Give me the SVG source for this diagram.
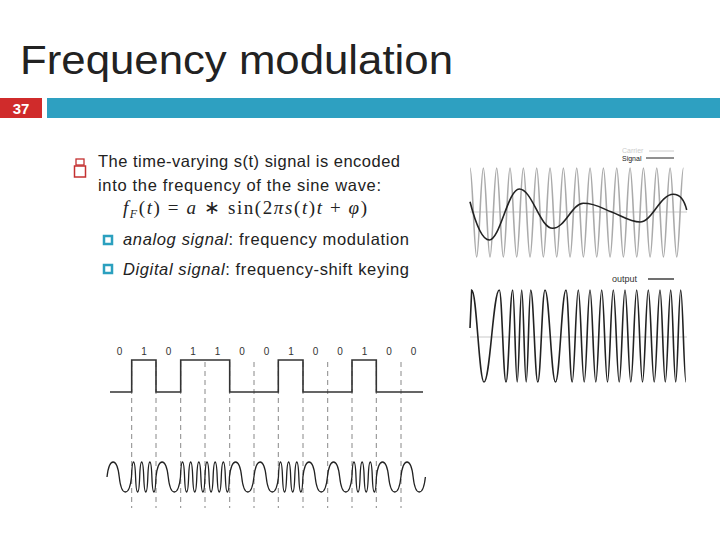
<svg xmlns="http://www.w3.org/2000/svg" width="720" height="540" viewBox="0 0 720 540">
<style>
.t{font-family:"Liberation Sans",Arial,sans-serif;fill:#222}
.b{font-size:16.5px}
.bit{font-family:"Liberation Sans",Arial,sans-serif;font-size:10px;fill:#333;text-anchor:middle}
.dash{stroke:#888;stroke-width:1;stroke-dasharray:5,4;fill:none}
.w{fill:none;stroke:#222;stroke-width:1.6}
.sq{fill:#fff;stroke:#2ba0bf;stroke-width:2.5}
</style>
<rect width="720" height="540" fill="#fff"/>
<g id="header">
<text class="t" x="20" y="74" font-size="41" fill="#262626" textLength="433" lengthAdjust="spacingAndGlyphs">Frequency modulation</text>
<rect x="0" y="98" width="42" height="20" fill="#d02b2b"/>
<text x="21" y="114" font-family="Liberation Sans,Arial,sans-serif" font-size="15" font-weight="bold" fill="#fff" text-anchor="middle">37</text>
<rect x="47" y="98" width="673" height="20" fill="#2ea0c1"/>
</g>
<g id="bullets">
<rect x="76" y="159" width="8" height="6" fill="none" stroke="#c43030" stroke-width="1.3"/>
<rect x="74.5" y="166" width="11" height="11" fill="none" stroke="#c43030" stroke-width="1.5"/>
<text class="t b" x="98" y="167" textLength="302">The time-varying s(t) signal is encoded</text>
<text class="t b" x="98" y="191" textLength="283">into the frequency of the sine wave:</text>
<text x="123" y="214" font-family="Liberation Serif,serif" font-size="19" fill="#222" textLength="244"><tspan font-style="italic">f</tspan><tspan font-style="italic" font-size="12" dy="4">F</tspan><tspan dy="-4">(</tspan><tspan font-style="italic">t</tspan>) = <tspan font-style="italic">a</tspan> ∗ sin(2<tspan font-style="italic">πs</tspan>(<tspan font-style="italic">t</tspan>)<tspan font-style="italic">t</tspan> + <tspan font-style="italic">φ</tspan>)</text>
<rect class="sq" x="104" y="236" width="8" height="8"/>
<text class="t b" x="123" y="245" textLength="286"><tspan font-style="italic">analog signal</tspan>: frequency modulation</text>
<rect class="sq" x="104" y="265" width="8" height="8"/>
<text class="t b" x="123" y="275" textLength="286"><tspan font-style="italic">Digital signal</tspan>: frequency-shift keying</text>
</g>
<g id="fm-plot">
<line x1="470" y1="212" x2="687" y2="212" stroke="#bbb" stroke-width="0.8"/>
<path fill="none" stroke="#aaa" stroke-width="1.6" d="M470,168 c2.4,0 4.27,89 6.67,89 c2.4,0 4.27,-89 6.67,-89 c2.4,0 4.27,89 6.67,89 c2.4,0 4.27,-89 6.67,-89 c2.4,0 4.27,89 6.67,89 c2.4,0 4.27,-89 6.67,-89 c2.4,0 4.27,89 6.67,89 c2.4,0 4.27,-89 6.67,-89 c2.4,0 4.27,89 6.67,89 c2.4,0 4.27,-89 6.67,-89 c2.4,0 4.27,89 6.67,89 c2.4,0 4.27,-89 6.67,-89 c2.4,0 4.27,89 6.67,89 c2.4,0 4.27,-89 6.67,-89 c2.4,0 4.27,89 6.67,89 c2.4,0 4.27,-89 6.67,-89 c2.4,0 4.27,89 6.67,89 c2.4,0 4.27,-89 6.67,-89 c2.4,0 4.27,89 6.67,89 c2.4,0 4.27,-89 6.67,-89 c2.4,0 4.27,89 6.67,89 c2.4,0 4.27,-89 6.67,-89 c2.4,0 4.27,89 6.67,89 c2.4,0 4.27,-89 6.67,-89 c2.4,0 4.27,89 6.67,89 c2.4,0 4.27,-89 6.67,-89 c2.4,0 4.27,89 6.67,89 c2.4,0 4.27,-89 6.67,-89 c2.4,0 4.27,89 6.67,89 c2.4,0 4.27,-89 6.67,-89 c2.4,0 4.27,89 6.67,89 c2.4,0 4.27,-89 6.67,-89"/>
<path class="w" d="M470,201.7 C476,225 482,240 489.3,240 C500,240 508,189 519.3,189 C532,189 540,228.3 552.7,228.3 C565,228.3 572,203.3 583.3,203.3 C596,203.3 603,209 611.7,212 C622,216 630,222 640,222 C652,222 660,194.3 673.3,194.3 C681,194.3 685,203 686.7,210"/>
<text x="622" y="153" font-family="Liberation Sans,Arial,sans-serif" font-size="7" fill="#ccc">Carrier</text>
<line x1="649" y1="151" x2="674" y2="151" stroke="#ccc" stroke-width="1"/>
<text x="622" y="161" font-family="Liberation Sans,Arial,sans-serif" font-size="7" fill="#222">Signal</text>
<line x1="646" y1="158" x2="674" y2="158" stroke="#222" stroke-width="1"/>
<line x1="470" y1="337" x2="687" y2="337" stroke="#bbb" stroke-width="0.8"/>
<text x="612" y="282" font-family="Liberation Sans,Arial,sans-serif" font-size="9" fill="#333">output</text>
<line x1="648" y1="279" x2="674" y2="279" stroke="#222" stroke-width="1.3"/>
<path class="w" d="M470,328 L471.7,290 C476.6,290 479.1,382 484,382 C490.1,382 493.2,290 499.3,290 C502,290 503.3,382 506,382 C508.7,382 510,290 512.7,290 C514.5,290 515.4,382 517.2,382 C519,382 519.9,290 521.7,290 C523.5,290 524.4,382 526.2,382 C528,382 528.9,290 530.7,290 C533.5,290 535,382 537.8,382 C540.7,382 542.1,290 545,290 C549.2,290 551.3,382 555.5,382 C559.7,382 561.8,290 566,290 C568.5,290 569.7,382 572.2,382 C574.6,382 575.9,290 578.3,290 C580.6,290 581.9,382 584.2,382 C586.5,382 587.7,290 590,290 C592.3,290 593.5,382 595.8,382 C598.1,382 599.4,290 601.7,290 C604,290 605.2,382 607.5,382 C609.8,382 611,290 613.3,290 C615.6,290 616.9,382 619.2,382 C621.5,382 622.7,290 625,290 C627.3,290 628.5,382 630.8,382 C633.1,382 634.4,290 636.7,290 C639,290 640.2,382 642.5,382 C644.8,382 646,290 648.3,290 C650.6,290 651.9,382 654.2,382 C656.5,382 657.7,290 660,290 C662.1,290 663.2,382 665.3,382 C667.4,382 668.6,290 670.7,290 C672.7,290 673.7,382 675.7,382 C677.7,382 678.7,290 680.7,290 C682.8,290 683.9,382 686,382"/>
</g>
<g id="fsk-plot">
<g class="bit">
<text x="119.5" y="355">0</text><text x="144" y="355">1</text><text x="168.5" y="355">0</text><text x="193" y="355">1</text><text x="217.5" y="355">1</text><text x="242" y="355">0</text><text x="266.5" y="355">0</text><text x="291" y="355">1</text><text x="315.5" y="355">0</text><text x="340" y="355">0</text><text x="364.5" y="355">1</text><text x="389" y="355">0</text><text x="413.5" y="355">0</text>
</g>
<g class="dash">
<line x1="131.7" y1="362" x2="131.7" y2="508"/><line x1="156" y1="362" x2="156" y2="508"/><line x1="180.7" y1="362" x2="180.7" y2="508"/><line x1="205" y1="362" x2="205" y2="508"/><line x1="229.7" y1="362" x2="229.7" y2="508"/><line x1="254" y1="362" x2="254" y2="508"/><line x1="278.3" y1="362" x2="278.3" y2="508"/><line x1="303" y1="362" x2="303" y2="508"/><line x1="327.7" y1="362" x2="327.7" y2="508"/><line x1="352" y1="362" x2="352" y2="508"/><line x1="376.3" y1="362" x2="376.3" y2="508"/><line x1="401" y1="362" x2="401" y2="508"/>
</g>
<path fill="none" stroke="#333" stroke-width="1.6" d="M110,392 H131.7 V360 H156 V392 H180.7 V360 H229.7 V392 H278.3 V360 H303 V392 H352 V360 H376.3 V392 H423"/>
<path fill="none" stroke="#222" stroke-width="1.3" d="M107,477
c2.2,-20 10.05,-20 12.25,0 c2.2,20 10.05,20 12.25,0
c0.73,-20 3.35,-20 4.08,0 c0.73,20 3.35,20 4.08,0 c0.73,-20 3.35,-20 4.08,0 c0.73,20 3.35,20 4.08,0 c0.73,-20 3.35,-20 4.08,0 c0.73,20 3.35,20 4.08,0
c2.2,-20 10.05,-20 12.25,0 c2.2,20 10.05,20 12.25,0
c0.73,-20 3.35,-20 4.08,0 c0.73,20 3.35,20 4.08,0 c0.73,-20 3.35,-20 4.08,0 c0.73,20 3.35,20 4.08,0 c0.73,-20 3.35,-20 4.08,0 c0.73,20 3.35,20 4.08,0
c0.73,-20 3.35,-20 4.08,0 c0.73,20 3.35,20 4.08,0 c0.73,-20 3.35,-20 4.08,0 c0.73,20 3.35,20 4.08,0 c0.73,-20 3.35,-20 4.08,0 c0.73,20 3.35,20 4.08,0
c2.2,-20 10.05,-20 12.25,0 c2.2,20 10.05,20 12.25,0
c2.2,-20 10.05,-20 12.25,0 c2.2,20 10.05,20 12.25,0
c0.73,-20 3.35,-20 4.08,0 c0.73,20 3.35,20 4.08,0 c0.73,-20 3.35,-20 4.08,0 c0.73,20 3.35,20 4.08,0 c0.73,-20 3.35,-20 4.08,0 c0.73,20 3.35,20 4.08,0
c2.2,-20 10.05,-20 12.25,0 c2.2,20 10.05,20 12.25,0
c2.2,-20 10.05,-20 12.25,0 c2.2,20 10.05,20 12.25,0
c0.73,-20 3.35,-20 4.08,0 c0.73,20 3.35,20 4.08,0 c0.73,-20 3.35,-20 4.08,0 c0.73,20 3.35,20 4.08,0 c0.73,-20 3.35,-20 4.08,0 c0.73,20 3.35,20 4.08,0
c2.2,-20 10.05,-20 12.25,0 c2.2,20 10.05,20 12.25,0
c2.2,-20 10.05,-20 12.25,0 c2.2,20 10.05,20 12.25,0"/>
</g>
</svg>
